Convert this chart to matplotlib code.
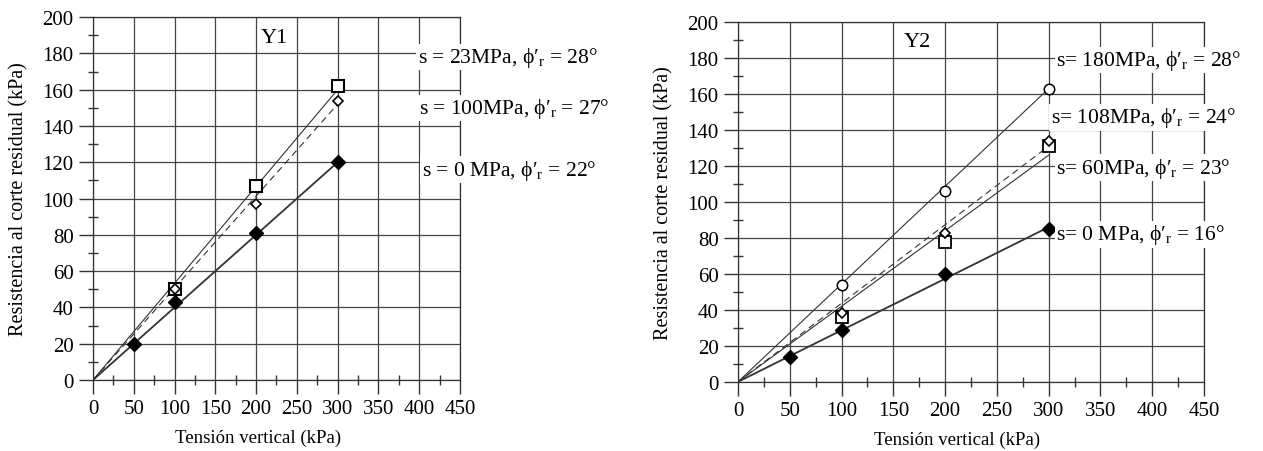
import matplotlib.pyplot as plt
import numpy as np

plt.rcParams['font.family'] = ['Liberation Serif', 'DejaVu Serif']
plt.rcParams['mathtext.fontset'] = 'custom'
plt.rcParams['mathtext.rm'] = 'Liberation Serif'
plt.rcParams['mathtext.it'] = 'Liberation Serif:italic'

# Y1 data
y1_x0 = [50, 100, 200, 300]
y1_s0 = [20, 43, 81, 120]
y1_x = [100, 200, 300]
y1_s23 = [50, 107, 162]
y1_s100 = [50, 97, 154]
# fitted lines (end value at 300 kPa)
y1_fit = {'s0': 120, 's23': 160, 's100': 152}

# Y2 data
y2_x0 = [50, 100, 200, 300]
y2_s0 = [14, 29, 60, 85]
y2_x = [100, 200, 300]
y2_s180 = [54, 106, 163]
y2_s108 = [38, 83, 134]
y2_s60 = [36, 78, 131]
y2_fit = {'s0': 86, 's180': 163, 's108': 131, 's60': 126}

y1_labels = [(398, 178, "s = 23MPa, ϕ′$_{\\mathrm{r}}$ = 28°"),
             (400, 150, "s = 100MPa, ϕ′$_{\\mathrm{r}}$ = 27°"),
             (403, 116, "s = 0 MPa, ϕ′$_{\\mathrm{r}}$ = 22°")]
y2_labels = [(307, 179, "s= 180MPa, ϕ′$_{\\mathrm{r}}$ = 28°"),
             (302, 147, "s= 108MPa, ϕ′$_{\\mathrm{r}}$ = 24°"),
             (307, 119, "s= 60MPa, ϕ′$_{\\mathrm{r}}$ = 23°"),
             (307, 82, "s= 0 MPa, ϕ′$_{\\mathrm{r}}$ = 16°")]

fig = plt.figure(figsize=(12.63, 4.52), dpi=100)
ax1 = fig.add_axes([0.0736, 0.157, 0.2906, 0.803])
ax2 = fig.add_axes([0.5843, 0.153, 0.369, 0.796])


def style_axis(ax, xlab_x):
    ax.set_xlim(0, 450)
    ax.set_ylim(0, 200)
    ax.set_xticks(np.arange(0, 451, 50))
    ax.set_xticks(np.arange(25, 451, 50), minor=True)
    ax.set_yticks(np.arange(0, 201, 20))
    ax.set_yticks(np.arange(10, 201, 20), minor=True)
    ax.grid(True, which='major', color='#444444', linewidth=0.9)
    ax.set_axisbelow(True)
    ax.tick_params(which='major', direction='out', length=10, width=1, labelsize=15, pad=4,
                   color='#333333')
    ax.tick_params(which='minor', direction='inout', length=7, width=1, color='#333333')
    for sp in ax.spines.values():
        sp.set_color('#333333')
        sp.set_linewidth(0.9)
    ax.set_xlabel("Tensión vertical (kPa)", fontsize=13.5)
    ax.xaxis.set_label_coords(xlab_x, -0.135)
    ax.set_ylabel("Resistencia al corte residual (kPa)", fontsize=14.5, labelpad=10)


def fit(ax, end, ls='-', lw=0.8):
    ax.plot([0, 300], [0, end], color='#333333', linestyle=ls, linewidth=lw,
            dashes=(6, 4) if ls == '--' else (None, None))


style_axis(ax1, 0.45)
fit(ax1, y1_fit['s0'], lw=1.3)
fit(ax1, y1_fit['s23'])
fit(ax1, y1_fit['s100'], ls='--')
ax1.plot(y1_x0, y1_s0, 'D', color='black', markersize=7, linestyle='none')
ax1.plot(y1_x, y1_s23, 's', mfc='white', mec='black', mew=1.5, markersize=9, linestyle='none')
ax1.plot(y1_x, y1_s100, 'D', mfc='white', mec='black', mew=1.2, markersize=5, linestyle='none')
ax1.text(222, 189, "Y1", fontsize=16, ha='center', va='center')
for x, y, t in y1_labels:
    ax1.text(x, y, t, fontsize=15.5, ha='left', va='center', clip_on=False,
             bbox=dict(facecolor='white', edgecolor='none', pad=1))

style_axis(ax2, 0.47)
fit(ax2, y2_fit['s0'], lw=1.3)
fit(ax2, y2_fit['s180'])
fit(ax2, y2_fit['s108'], ls='--')
fit(ax2, y2_fit['s60'])
ax2.plot(y2_x0, y2_s0, 'D', color='black', markersize=7, linestyle='none')
ax2.plot(y2_x, y2_s180, 'o', mfc='white', mec='black', mew=1.1, markersize=7.5, linestyle='none')
ax2.plot(y2_x, y2_s60, 's', mfc='white', mec='black', mew=1.3, markersize=8, linestyle='none')
ax2.plot(y2_x, y2_s108, 'D', mfc='white', mec='black', mew=1.2, markersize=5, linestyle='none')
ax2.text(173, 189, "Y2", fontsize=16, ha='center', va='center')
for x, y, t in y2_labels:
    ax2.text(x, y, t, fontsize=15.5, ha='left', va='center', clip_on=False,
             bbox=dict(facecolor='white', edgecolor='none', pad=1))

fig.savefig('out.png', dpi=100, facecolor='white')
